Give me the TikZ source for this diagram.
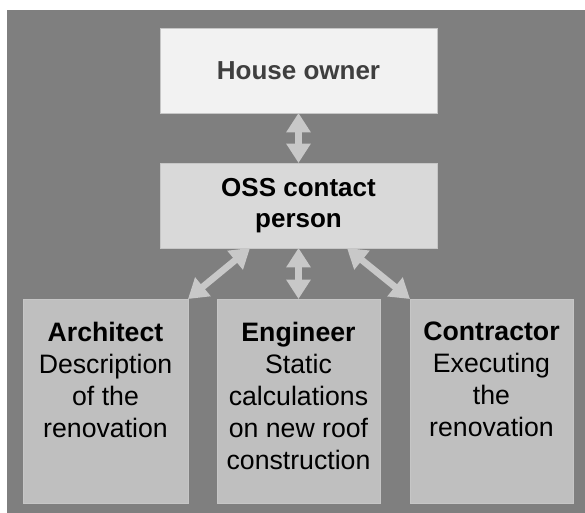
\documentclass[tikz,border=0pt]{standalone}
\usepackage{fontspec}
\setmainfont{Liberation Sans}
\usepackage{tikz}
\usetikzlibrary{arrows.meta,positioning,calc}

\definecolor{bggray}{HTML}{7F7F7F}
\definecolor{ownerfill}{HTML}{F2F2F2}
\definecolor{ossfill}{HTML}{D9D9D9}
\definecolor{partyfill}{HTML}{BFBFBF}
\definecolor{linkgray}{HTML}{C8C8C8}
\definecolor{owntext}{HTML}{3F3F3F}

\begin{document}
\begin{tikzpicture}[
    x=0.75pt, y=-0.75pt,
    box/.style = {rectangle, draw=gray!45, line width=0.4pt, inner sep=0pt, outer sep=0pt, align=center, font=\fontsize{19.5}{24}\selectfont},
    top/.style = {box, minimum width=207.75pt, minimum height=63.75pt, font=\bfseries\fontsize{19.5}{23}\selectfont},
    party/.style = {box, fill=partyfill, minimum height=153pt},
    desc/.style = {anchor=north, inner sep=0pt, yshift=-17pt, align=center, text=black, font=\fontsize{20}{24}\selectfont},
    link/.style = {linkgray, line width=5pt, {Triangle[width=17.5pt,length=14.5pt]}-{Triangle[width=17.5pt,length=14.5pt]}}
]
    % Background and frame
    \useasboundingbox (0,0) rectangle (585,513);
    \fill[bggray] (7,10) rectangle (585,513);
    % Top two levels
    \node[top, fill=ownerfill, text=owntext] (owner) at (298.5,70.5) {House owner};
    \node[top, fill=ossfill, text=black] (oss) at (298.5,205.5) {OSS contact\\person};
    % Bottom row
    \node[party, minimum width=123.75pt, label={[desc]north:{\bfseries Architect}\\Description\\of the\\renovation}] (architect) at (105.5,401) {};
    \node[party, minimum width=122.25pt, label={[desc]north:{\bfseries Engineer}\\Static\\calculations\\on new roof\\construction}] (engineer) at (298.5,401) {};
    \node[party, minimum width=122.25pt, label={[desc]north:{\bfseries Contractor}\\Executing\\the\\renovation}] (contractor) at (491.5,401) {};
    % Arrows
    \draw[link] (owner) -- (oss);
    \draw[link] (oss) -- (engineer);
    \draw[link] ($(oss.south west)!0.325!(oss.south east)$) -- (architect.north east);
    \draw[link] ($(oss.south west)!0.675!(oss.south east)$) -- (contractor.north west);
\end{tikzpicture}
\end{document}
